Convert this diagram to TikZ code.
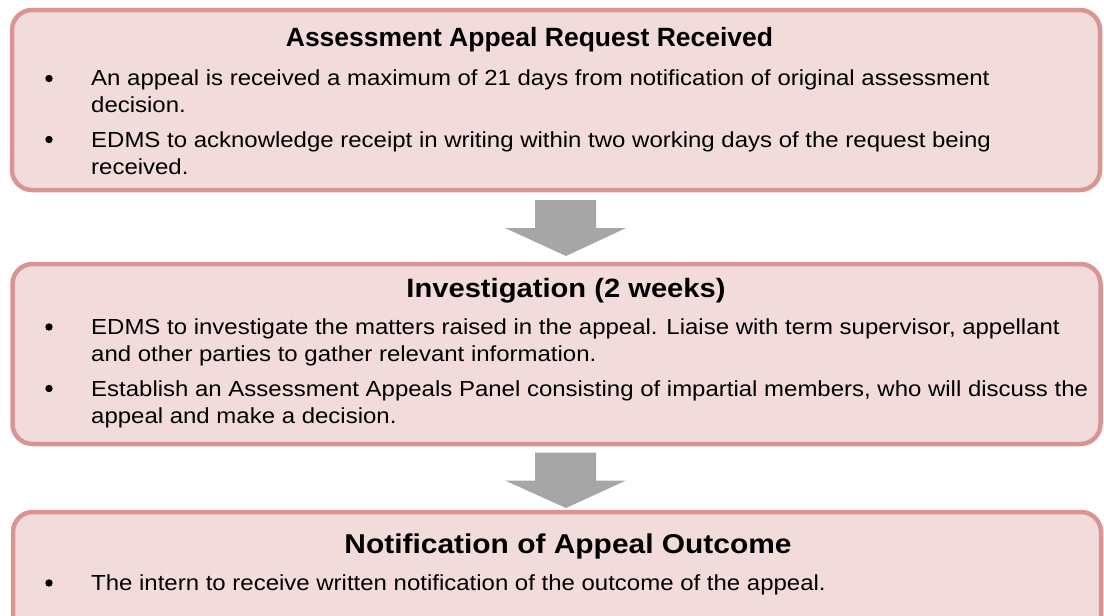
\documentclass[tikz,border=0pt]{standalone}
\usepackage{graphicx}
\usepackage{fontspec}
\setmainfont{Liberation Sans}[FakeStretch=1.1]
\begin{document}
\definecolor{boxfill}{HTML}{F2DBDB}
\definecolor{boxline}{HTML}{D99594}
\definecolor{arrowgray}{HTML}{A6A6A6}
\tikzset{
  stagebox/.style={draw=boxline, fill=boxfill, line width=4.5pt, rounded corners=20pt,
    inner sep=0pt, minimum width=1088pt},
  heading/.style={anchor=base, inner sep=0pt, font=\fontsize{#1}{30}\selectfont\bfseries},
  heading/.default=26.4,
  bodyline/.style={anchor=base west, inner sep=0pt, font=\fontsize{21.8}{27}\selectfont},
  dot/.style={circle, fill=black, inner sep=0pt, minimum size=7.4pt},
  blockarrow/.style={fill=arrowgray, draw=none}
}
\begin{tikzpicture}[x=1pt, y=-1pt]
\useasboundingbox (0,0) rectangle (1104,616);
\clip (0,0) rectangle (1104,616);

% stage boxes
\node[stagebox, minimum height=180pt] (b1) at (556,100) {};
\node[stagebox, minimum height=180pt] (b2) at (556.5,354) {};
\node[stagebox, minimum height=190pt] (b3) at (557,607) {};

% block arrows between the stages
\fill[blockarrow] (535,200) -- (596,200) -- (596,228) -- (626,228) -- (566,256)
  -- (505,228) -- (535,228) -- cycle;
\fill[blockarrow] (535,452.5) -- (596,452.5) -- (596,480.5) -- (626,480.5) -- (566,508)
  -- (505,480.5) -- (535,480.5) -- cycle;

% stage 1 (heading set slightly condensed)
\node[heading=26.4] (t1) at (529.5,46.5) {\scalebox{0.912}[1]{Assessment Appeal Request Received}};
\node[dot] (d11) at (49,78.5) {};
\node[bodyline] (l11) at (91,85) {An appeal is received a maximum of 21 days from notification of original assessment};
\node[bodyline] (l12) at (91,112.5) {decision.};
\node[dot] (d12) at (49,139.5) {};
\node[bodyline] (l13) at (91,147) {EDMS to acknowledge receipt in writing within two working days of the request being};
\node[bodyline] (l14) at (91,174.5) {received.};

% stage 2
\node[heading=26.5] (t2) at (566,297) {Investigation (2 weeks)};
\node[dot] (d21) at (49,327) {};
\node[bodyline] (l21) at (91,334.5) {EDMS to investigate the matters raised in the appeal. Liaise with term supervisor, appellant};
\node[bodyline] (l22) at (91,361.5) {and other parties to gather relevant information.};
\node[dot] (d22) at (49,388.5) {};
\node[bodyline] (l23) at (91,396.5) {Establish an Assessment Appeals Panel consisting of impartial members, who will discuss the};
\node[bodyline] (l24) at (91,423.5) {appeal and make a decision.};

% stage 3
\node[heading=27.2] (t3) at (568,553) {Notification of Appeal Outcome};
\node[dot] (d31) at (49,583) {};
\node[bodyline] (l31) at (91,590) {The intern to receive written notification of the outcome of the appeal.};
\end{tikzpicture}
\end{document}
